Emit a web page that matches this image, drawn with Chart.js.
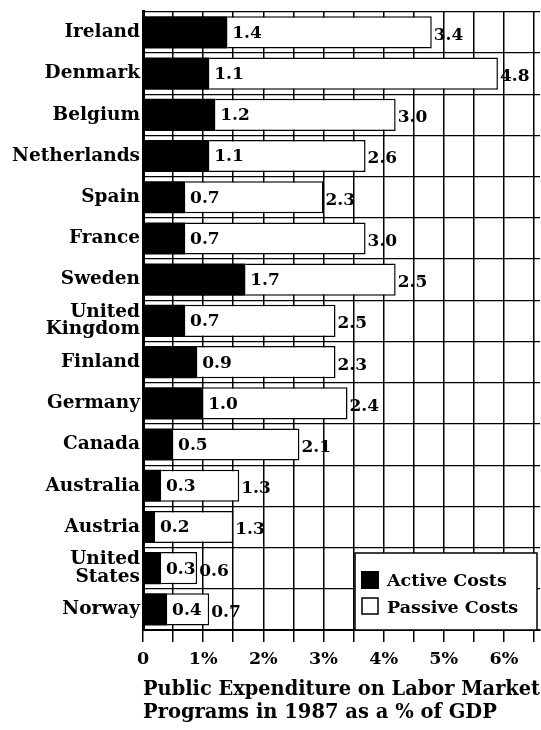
<!DOCTYPE html>
<html lang="en">
<head>
  <meta charset="UTF-8" />
  <title>Labor Market Programs 1987</title>
  <script src="https://cdn.jsdelivr.net/npm/chart.js"></script>
  <style>
    body {
      margin: 0;
      background: #fff;
    }
    .wrap {
      width: 541px;
      height: 730px;
      position: relative;
    }
  </style>
</head>
<body>

<div class="wrap">
  <canvas id="laborChart" width="541" height="730"></canvas>
</div>

<script>
const countries = [
  'Ireland', 'Denmark', 'Belgium', 'Netherlands', 'Spain', 'France', 'Sweden',
  ['United', 'Kingdom'], 'Finland', 'Germany', 'Canada', 'Australia', 'Austria',
  ['United', 'States'], 'Norway'
];
const activeCosts = [1.4, 1.1, 1.2, 1.1, 0.7, 0.7, 1.7, 0.7, 0.9, 1.0, 0.5, 0.3, 0.2, 0.3, 0.4];
const passiveCosts = [3.4, 4.8, 3.0, 2.6, 2.3, 3.0, 2.5, 2.5, 2.3, 2.4, 2.1, 1.3, 1.3, 0.6, 0.7];
const xTickLabels = ['0', '1%', '2%', '3%', '4%', '5%', '6%'];

const FONT = "'DejaVu Serif', serif";

// value labels: active value just inside the white bar, passive value after it
const valueLabels = {
  id: 'valueLabels',
  afterDatasetsDraw(chart) {
    const ctx = chart.ctx;
    const act = chart.getDatasetMeta(0).data;
    const pas = chart.getDatasetMeta(1).data;
    ctx.save();
    ctx.font = 'bold 17px ' + FONT;
    ctx.fillStyle = '#000';
    ctx.textBaseline = 'middle';
    ctx.textAlign = 'left';
    act.forEach((bar, i) => {
      ctx.fillText(activeCosts[i].toFixed(1), bar.x + 5, bar.y + 1);
      ctx.fillText(passiveCosts[i].toFixed(1), pas[i].x + 2, pas[i].y + 3);
    });
    ctx.restore();
  }
};

// legend box in the lower right corner of the plot
const boxLegend = {
  id: 'boxLegend',
  afterDraw(chart) {
    const ctx = chart.ctx;
    const area = chart.chartArea;
    const x0 = 355, y0 = 553, x1 = 537, y1 = area.bottom;
    ctx.save();
    ctx.fillStyle = '#fff';
    ctx.fillRect(x0, y0, x1 - x0, y1 - y0);
    ctx.strokeStyle = '#000';
    ctx.lineWidth = 1.5;
    ctx.strokeRect(x0, y0, x1 - x0, y1 - y0);

    ctx.font = 'bold 17.5px ' + FONT;
    ctx.textBaseline = 'middle';
    ctx.fillStyle = '#000';
    ctx.fillRect(361, 571, 18, 18);
    ctx.fillText(chart.data.datasets[0].label, 387, 581);
    ctx.lineWidth = 1.5;
    ctx.strokeRect(362, 598, 16, 16);
    ctx.fillText(chart.data.datasets[1].label, 387, 608);
    ctx.restore();
  }
};

new Chart(document.getElementById('laborChart'), {
  type: 'bar',
  data: {
    labels: countries,
    datasets: [
      {
        label: 'Active Costs',
        data: activeCosts,
        backgroundColor: '#000',
        borderWidth: 0,
        barPercentage: 0.78,
        categoryPercentage: 1
      },
      {
        label: 'Passive Costs',
        data: passiveCosts,
        backgroundColor: '#fff',
        borderColor: '#000',
        borderWidth: 1.5,
        borderSkipped: 'left',
        barPercentage: 0.78,
        categoryPercentage: 1
      }
    ]
  },
  options: {
    indexAxis: 'y',
    responsive: false,
    animation: false,
    layout: { padding: { top: 10, right: 0, left: 0, bottom: 0 } },
    plugins: {
      legend: { display: false },
      tooltip: { enabled: false }
    },
    scales: {
      x: {
        stacked: true,
        min: 0,
        max: 6.6,
        afterFit(scale) { scale.height = 100; },
        afterBuildTicks(scale) {
          scale.ticks = [];
          for (let v = 0; v <= 6.5; v += 0.5) scale.ticks.push({ value: v });
        },
        ticks: {
          autoSkip: false,
          maxRotation: 0,
          color: '#000',
          padding: 7,
          font: { family: FONT, size: 17.5, weight: 'bold' },
          callback(value) {
            return Number.isInteger(value) ? xTickLabels[value] : '';
          }
        },
        grid: {
          color: '#000',
          lineWidth: 1.5,
          tickLength: 12,
          drawTicks: true
        },
        border: { color: '#000', width: 2 },
        title: {
          display: true,
          text: ['Public Expenditure on Labor Market', 'Programs in 1987 as a % of GDP'],
          align: 'start',
          color: '#000',
          font: { family: FONT, size: 19.5, weight: 'bold', lineHeight: 1.15 },
          padding: { top: 2, bottom: 6 }
        }
      },
      y: {
        stacked: true,
        afterFit(scale) { scale.width = 143; },
        ticks: {
          color: '#000',
          padding: 3,
          autoSkip: false,
          font: { family: FONT, size: 18.5, weight: 'bold', lineHeight: 0.95 }
        },
        grid: {
          color: '#000',
          lineWidth: 1.2,
          offset: true,
          drawTicks: false
        },
        border: { color: '#000', width: 3 }
      }
    }
  },
  plugins: [valueLabels, boxLegend]
});
</script>

</body>
</html>
